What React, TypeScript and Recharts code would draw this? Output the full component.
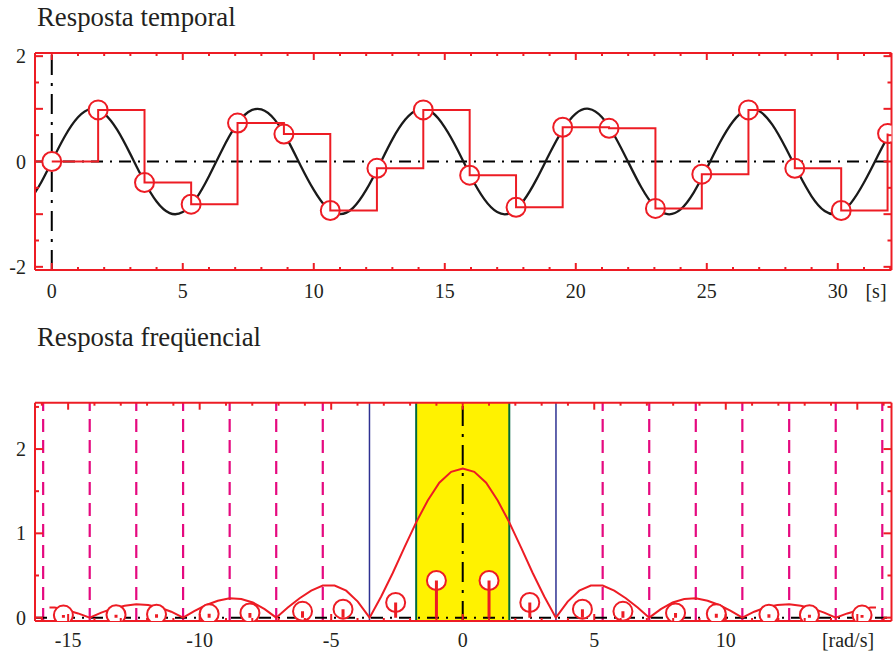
import React from 'react';
import { ComposedChart, Line, XAxis, YAxis, ReferenceLine, ReferenceArea } from 'recharts';

const RED = '#ed1c24';
const INK = '#231f20';
const FONT = '"Liberation Serif", "DejaVu Serif", serif';

// ---- time response ----
const sineT = [-1, -0.5, 0, 0.5, 1, 1.5, 2, 2.5, 3, 3.5, 4, 4.5, 5, 5.5, 6, 6.5, 7, 7.5, 8, 8.5, 9, 9.5, 10, 10.5, 11, 11.5, 12, 12.5, 13, 13.5, 14, 14.5, 15, 15.5, 16, 16.5, 17, 17.5, 18, 18.5, 19, 19.5, 20, 20.5, 21, 21.5, 22, 22.5, 23, 23.5, 24, 24.5, 25, 25.5, 26, 26.5, 27, 27.5, 28, 28.5, 29, 29.5, 30, 30.5, 31, 31.5, 32, 32.5];
const sineY = [-0.84, -0.48, 0, 0.48, 0.84, 1.0, 0.91, 0.6, 0.14, -0.35, -0.76, -0.98, -0.96, -0.71, -0.28, 0.22, 0.66, 0.94, 0.99, 0.8, 0.41, -0.08, -0.54, -0.88, -1.0, -0.88, -0.54, -0.07, 0.42, 0.8, 0.99, 0.94, 0.65, 0.21, -0.29, -0.71, -0.96, -0.98, -0.75, -0.34, 0.15, 0.6, 0.91, 1.0, 0.84, 0.47, -0.01, -0.49, -0.85, -1.0, -0.91, -0.59, -0.13, 0.36, 0.76, 0.98, 0.96, 0.7, 0.27, -0.22, -0.66, -0.94, -0.99, -0.79, -0.4, 0.08, 0.55, 0.89];

const sampleT = [0, 1.77, 3.54, 5.32, 7.09, 8.86, 10.63, 12.41, 14.18, 15.95, 17.72, 19.5, 21.27, 23.04, 24.81, 26.59, 28.36, 30.13, 31.9];
const sampleY = [0, 0.98, -0.4, -0.81, 0.73, 0.52, -0.93, -0.13, 0.98, -0.26, -0.87, 0.65, 0.63, -0.89, -0.24, 0.98, -0.13, -0.93, 0.53];

const timeTicksX = [0, 1, 2, 3, 4, 5, 6, 7, 8, 9, 10, 11, 12, 13, 14, 15, 16, 17, 18, 19, 20, 21, 22, 23, 24, 25, 26, 27, 28, 29, 30, 31, 32];
const timeMajorX = [0, 5, 10, 15, 20, 25, 30];
const timeTicksY = [-2, -1.5, -1, -0.5, 0, 0.5, 1, 1.5, 2];
const timeMajorY = [-2, -1, 0, 1, 2];
const timeLabelsY = [-2, 0, 2];

// ---- frequency response ----
const specW = [-15.71, -15.51, -15.07, -14.62, -14.18, -13.74, -13.29, -12.85, -12.41, -11.96, -11.52, -11.08, -10.63, -10.19, -9.75, -9.31, -8.86, -8.42, -7.98, -7.53, -7.09, -6.65, -6.2, -5.76, -5.32, -4.87, -4.43, -3.99, -3.54, -3.1, -2.66, -2.22, -1.77, -1.33, -0.89, -0.44, 0, 0.44, 0.89, 1.33, 1.77, 2.22, 2.66, 3.1, 3.54, 3.99, 4.43, 4.87, 5.32, 5.76, 6.2, 6.65, 7.09, 7.53, 7.98, 8.42, 8.86, 9.31, 9.75, 10.19, 10.63, 11.08, 11.52, 11.96, 12.41, 12.85, 13.29, 13.74, 14.18, 14.62, 15.07, 15.51, 15.71];
const specMag = [0.12, 0.12, 0.09, 0.05, 0, 0.06, 0.11, 0.14, 0.16, 0.15, 0.12, 0.07, 0, 0.08, 0.15, 0.2, 0.23, 0.22, 0.18, 0.1, 0, 0.12, 0.23, 0.32, 0.38, 0.38, 0.32, 0.19, 0, 0.25, 0.53, 0.83, 1.13, 1.39, 1.6, 1.73, 1.77, 1.73, 1.6, 1.39, 1.13, 0.83, 0.53, 0.25, 0, 0.19, 0.32, 0.38, 0.38, 0.32, 0.23, 0.12, 0, 0.1, 0.18, 0.22, 0.23, 0.2, 0.15, 0.08, 0, 0.07, 0.12, 0.15, 0.16, 0.14, 0.11, 0.06, 0, 0.05, 0.09, 0.12, 0.12];

const aliasW = [-15.18, -13.18, -11.64, -9.64, -8.09, -6.09, -4.55, -2.55, -1.0, 1.0, 2.55, 4.55, 6.09, 8.09, 9.64, 11.64, 13.18, 15.18];
const aliasMag = [0.03, 0.035, 0.04, 0.045, 0.055, 0.075, 0.1, 0.18, 0.44, 0.44, 0.18, 0.1, 0.075, 0.055, 0.045, 0.04, 0.035, 0.03];

const nyquistW = [-1.77, 1.77];
const samplingW = [-3.545, 3.545];
const harmonicW = [-15.95, -14.18, -12.41, -10.63, -8.86, -7.09, -5.32, 5.32, 7.09, 8.86, 10.63, 12.41, 14.18, 15.95];

const freqTicksX = [-16, -15, -14, -13, -12, -11, -10, -9, -8, -7, -6, -5, -4, -3, -2, -1, 0, 1, 2, 3, 4, 5, 6, 7, 8, 9, 10, 11, 12, 13, 14, 15, 16];
const freqMajorX = [-15, -10, -5, 0, 5, 10, 15];
const freqLabelsX = [-15, -10, -5, 0, 5, 10];
const freqTicksY = [0, 0.5, 1, 1.5, 2, 2.5];
const freqMajorY = [0, 1, 2];

const sineData = sineT.map((t, i) => ({ x: t, y: sineY[i] }));
const sampleData = sampleT.map((t, i) => ({ x: t, y: sampleY[i] }));
const specData = specW.map((w, i) => ({ x: w, y: specMag[i] }));
const aliasData = aliasW.map((w, i) => ({ x: w, y: aliasMag[i] }));
const stemData: { x: number; y: number | null }[] = [];
aliasW.forEach((w, i) => {
  stemData.push({ x: w, y: 0 }, { x: w, y: aliasMag[i] }, { x: w, y: null });
});

const labelStyle = { fontFamily: FONT, fontSize: 20, fill: INK };

function FrameTick(props: any) {
  const { x, y, payload, side, major, labels, majorLen, minorLen, gap } = props;
  const v: number = payload.value;
  const has = (list?: number[]) => !!list && list.some((m) => Math.abs(m - v) < 1e-6);
  const len = has(major) ? majorLen : minorLen;
  const dx = side === 'left' ? len : side === 'right' ? -len : 0;
  const dy = side === 'bottom' ? -len : side === 'top' ? len : 0;
  let label = null;
  if (has(labels)) {
    label =
      side === 'bottom' ? (
        <text x={x} y={y + gap} textAnchor="middle" dominantBaseline="central" style={labelStyle}>
          {v}
        </text>
      ) : (
        <text x={x - gap} y={y} textAnchor="end" dominantBaseline="central" style={labelStyle}>
          {v}
        </text>
      );
  }
  return (
    <g>
      <line x1={x} y1={y} x2={x + dx} y2={y + dy} stroke={RED} strokeWidth={2} />
      {label}
    </g>
  );
}

const frame = { stroke: RED, strokeWidth: 2 };

// four axes drawn as a red frame with inward ticks; each axis box is 1px thick
function Frame({ domainX, domainY, ticksX, majorX, labelsX, ticksY, majorY, labelsY, gapX }: any) {
  return [
    <XAxis key="xb" xAxisId={0} type="number" dataKey="x" domain={domainX} allowDataOverflow ticks={ticksX} interval={0}
      height={1} tickSize={0} tickMargin={0} tickLine={false} axisLine={frame}
      tick={<FrameTick side="bottom" major={majorX} labels={labelsX} majorLen={7} minorLen={3} gap={gapX} />} />,
    <XAxis key="xt" xAxisId="top" orientation="top" type="number" dataKey="x" domain={domainX} allowDataOverflow ticks={ticksX} interval={0}
      height={1} tickSize={0} tickMargin={0} tickLine={false} axisLine={frame}
      tick={<FrameTick side="top" major={majorX} majorLen={7} minorLen={3} />} />,
    <YAxis key="yl" yAxisId={0} type="number" domain={domainY} allowDataOverflow ticks={ticksY} interval={0}
      width={1} tickSize={0} tickMargin={0} tickLine={false} axisLine={frame}
      tick={<FrameTick side="left" major={majorY} labels={labelsY} majorLen={8} minorLen={4} gap={9} />} />,
    <YAxis key="yr" yAxisId="right" orientation="right" type="number" domain={domainY} allowDataOverflow ticks={ticksY} interval={0}
      width={1} tickSize={0} tickMargin={0} tickLine={false} axisLine={frame}
      tick={<FrameTick side="right" major={majorY} majorLen={8} minorLen={4} />} />,
  ];
}

const circleDot = { r: 9.5, fill: '#fff', stroke: RED, strokeWidth: 2 };

export default function App() {
  return (
    <div style={{ position: 'absolute', left: 0, top: 0, width: 893, height: 654, background: '#fff', fontFamily: FONT }}>
      <svg width={893} height={654} style={{ position: 'absolute', left: 0, top: 0 }}>
        <text x={37} y={26} style={{ fontFamily: FONT, fontSize: 26.8, fill: INK }}>Resposta temporal</text>
        <text x={37} y={346} style={{ fontFamily: FONT, fontSize: 26.8, fill: INK }}>Resposta freqüencial</text>
        <text x={876} y={291} textAnchor="middle" dominantBaseline="central" style={labelStyle}>[s]</text>
        <text x={848} y={640} textAnchor="middle" dominantBaseline="central" style={labelStyle}>[rad/s]</text>
      </svg>

      <div style={{ position: 'absolute', left: 0, top: 0 }}>
        <ComposedChart width={893} height={315} margin={{ top: 52, right: 0.5, bottom: 44, left: 34 }}>
          {Frame({
            domainX: [-0.64, 32.05], domainY: [-2.06, 2.06],
            ticksX: timeTicksX, majorX: timeMajorX, labelsX: timeMajorX,
            ticksY: timeTicksY, majorY: timeMajorY, labelsY: timeLabelsY, gapX: 21,
          })}
          <ReferenceLine y={0} stroke="#000" strokeWidth={2} strokeDasharray="12 7 2 7" zIndex={300} />
          <ReferenceLine x={0} stroke="#000" strokeWidth={2} strokeDasharray="20 8 3 8" zIndex={300} />
          <Line data={sineData} dataKey="y" type="natural" stroke="#1a1a1a" strokeWidth={2.3} dot={false} isAnimationActive={false} zIndex={400} />
          <Line data={sampleData} dataKey="y" type="linear" stroke="none" isAnimationActive={false} dot={circleDot} zIndex={500} />
          <Line data={sampleData} dataKey="y" type="stepAfter" stroke={RED} strokeWidth={2} dot={false} isAnimationActive={false} zIndex={900} />
        </ComposedChart>
      </div>

      <div style={{ position: 'absolute', left: 0, top: 380 }}>
        <ComposedChart width={893} height={274} margin={{ top: 21.7, right: 0.5, bottom: 32, left: 34 }}>
          {Frame({
            domainX: [-16.26, 16.3], domainY: [-0.04, 2.55],
            ticksX: freqTicksX, majorX: freqMajorX, labelsX: freqLabelsX,
            ticksY: freqTicksY, majorY: freqMajorY, labelsY: freqMajorY, gapX: 19,
          })}
          <ReferenceArea x1={nyquistW[0]} x2={nyquistW[1]} fill="#fff200" fillOpacity={1} stroke="none" zIndex={100} />
          {harmonicW.map((w) => (
            <ReferenceLine key={'h' + w} x={w} stroke="#e5097f" strokeWidth={2.2} strokeDasharray="13 8" zIndex={300} />
          ))}
          {samplingW.map((w) => (
            <ReferenceLine key={'s' + w} x={w} stroke="#2e3192" strokeWidth={1.5} zIndex={300} />
          ))}
          {nyquistW.map((w) => (
            <ReferenceLine key={'n' + w} x={w} stroke="#00693e" strokeWidth={2} zIndex={300} />
          ))}
          <ReferenceLine x={0} stroke="#000" strokeWidth={2} strokeDasharray="20 8 3 8" zIndex={300} />
          <ReferenceLine y={0} stroke="#000" strokeWidth={2} strokeDasharray="12 7 2 7" zIndex={300} />
          <Line data={specData} dataKey="y" type="linear" stroke={RED} strokeWidth={2} dot={false} isAnimationActive={false} zIndex={400} />
          <Line data={aliasData} dataKey="y" type="linear" stroke="none" isAnimationActive={false} dot={circleDot} zIndex={500} />
          <Line data={stemData} dataKey="y" type="linear" stroke={RED} strokeWidth={3} dot={false} connectNulls={false} isAnimationActive={false} zIndex={900} />
        </ComposedChart>
      </div>
    </div>
  );
}
